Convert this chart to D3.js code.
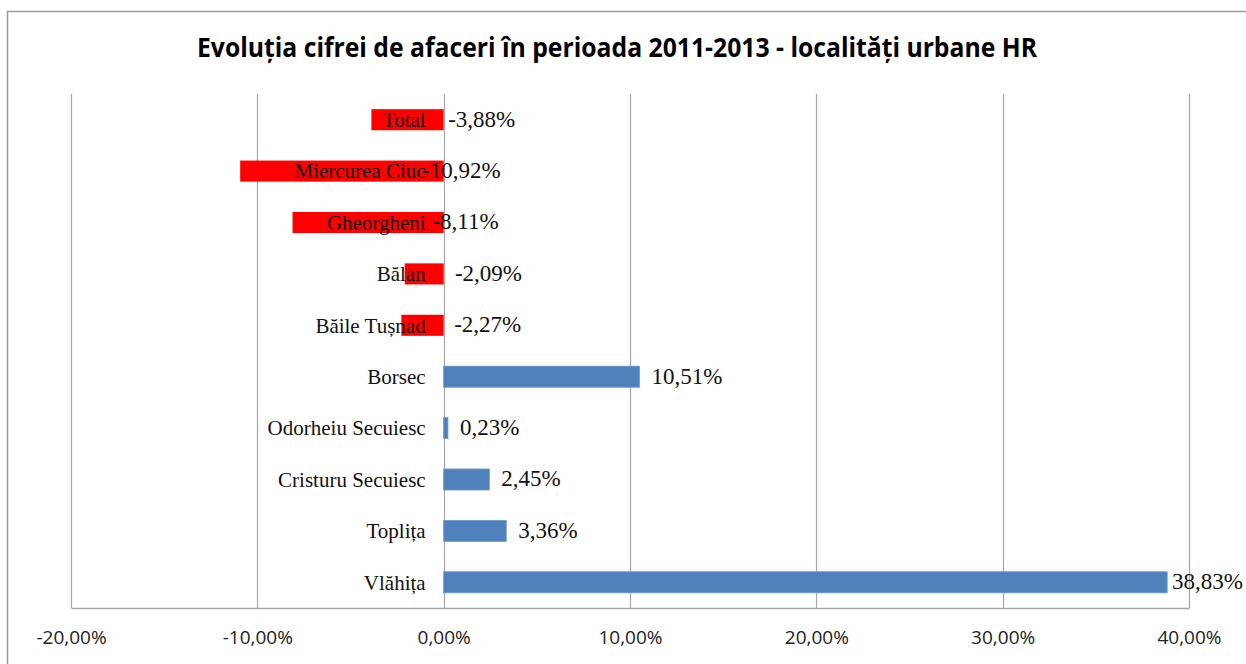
<!DOCTYPE html>
<html lang="ro">
<head>
    <meta charset="UTF-8">
    <script src="https://d3js.org/d3.v7.min.js"></script>
    <title>Evoluția cifrei de afaceri</title>
    <style>
        body { margin: 0; background: #fff; }
    </style>
</head>
<body>
<script>
    // Data
    const categories = ["Total", "Miercurea Ciuc", "Gheorgheni", "Bălan", "Băile Tușnad",
        "Borsec", "Odorheiu Secuiesc", "Cristuru Secuiesc", "Toplița", "Vlăhița"];
    const values = [-3.88, -10.92, -8.11, -2.09, -2.27, 10.51, 0.23, 2.45, 3.36, 38.83];
    const xTicks = [-20, -10, 0, 10, 20, 30, 40];
    const title = "Evoluția cifrei de afaceri în perioada 2011-2013 - localități urbane HR";

    const W = 1246, H = 664;
    const margin = {top: 94, right: 57, bottom: 56, left: 71};
    const width = W - margin.left - margin.right;
    const height = H - margin.top - margin.bottom;

    // percent with comma decimals and a plain hyphen for the minus sign
    const fmt = v => d3.format(".2f")(v).replace("−", "-").replace(".", ",") + "%";

    const svg = d3.select("body").append("svg")
        .attr("width", W)
        .attr("height", H);

    // chart frame
    svg.append("rect")
        .attr("x", 7.5).attr("y", 11.5)
        .attr("width", W).attr("height", H)
        .attr("fill", "none")
        .attr("stroke", "#9a9a9a")
        .attr("stroke-width", 1.5);

    // title
    svg.append("text")
        .attr("x", 617).attr("y", 57)
        .attr("text-anchor", "middle")
        .attr("font-family", "'Open Sans', sans-serif")
        .attr("font-weight", "bold")
        .attr("font-size", 26)
        .attr("textLength", 840)
        .attr("lengthAdjust", "spacingAndGlyphs")
        .attr("fill", "#000")
        .text(title);

    const g = svg.append("g")
        .attr("transform", "translate(" + margin.left + "," + margin.top + ")");

    const x = d3.scaleLinear().domain([-20, 40]).range([0, width]);
    const y = d3.scaleBand().domain(categories).range([0, height]).paddingInner(0.59).paddingOuter(0.295);

    // gridlines
    g.append("g")
        .selectAll("line")
        .data(xTicks)
        .join("line")
        .attr("x1", d => Math.round(x(d)) + 0.5)
        .attr("x2", d => Math.round(x(d)) + 0.5)
        .attr("y1", 0).attr("y2", height)
        .attr("stroke", "#a6a6a6")
        .attr("stroke-width", 1.2);

    // x axis
    const xAxis = g.append("g")
        .attr("transform", "translate(0," + height + ")")
        .call(d3.axisBottom(x).tickValues(xTicks).tickSize(0).tickPadding(23)
            .tickFormat(d => fmt(d)));
    xAxis.select(".domain").attr("stroke", "#a6a6a6").attr("stroke-width", 1.5);
    xAxis.selectAll("text")
        .attr("font-family", "'Open Sans', sans-serif")
        .attr("font-size", 19)
        .attr("fill", "#222");

    // bars
    g.append("g")
        .selectAll("rect")
        .data(values)
        .join("rect")
        .attr("x", d => x(Math.min(0, d)))
        .attr("width", d => Math.abs(x(d) - x(0)))
        .attr("y", (d, i) => y(categories[i]))
        .attr("height", y.bandwidth())
        .attr("fill", d => d < 0 ? "#ff0000" : "#4f81bd")
        .attr("stroke", d => d < 0 ? "none" : "#6f9bd0")
        .attr("stroke-width", 0.8);

    // category labels (drawn next to the zero line, over the bars)
    g.append("g")
        .selectAll("text")
        .data(categories)
        .join("text")
        .attr("x", x(0) - 18)
        .attr("y", d => y(d) + y.bandwidth() / 2)
        .attr("dy", "0.35em")
        .attr("text-anchor", "end")
        .attr("font-family", "'Liberation Serif', 'Times New Roman', serif")
        .attr("font-size", 21)
        .attr("fill", "#111")
        .text(d => d);

    // value labels
    const labels = g.append("g")
        .selectAll("text")
        .data(values)
        .join("text")
        .attr("y", (d, i) => y(categories[i]) + y.bandwidth() / 2)
        .attr("dy", "0.3em")
        .attr("font-family", "'Liberation Serif', 'Times New Roman', serif")
        .attr("font-size", 23)
        .attr("fill", "#111")
        .text(d => fmt(d));

    labels.attr("x", function (d) {
        const w = this.getComputedTextLength();
        const dx = x(d) - x(0);
        const px = d >= 0 ? x(d) + 12 : x(0) + 19 + dx * 0.2;
        const maxX = W - margin.left - 3 - w;
        return Math.min(px, maxX);
    });
</script>
</body>
</html>
